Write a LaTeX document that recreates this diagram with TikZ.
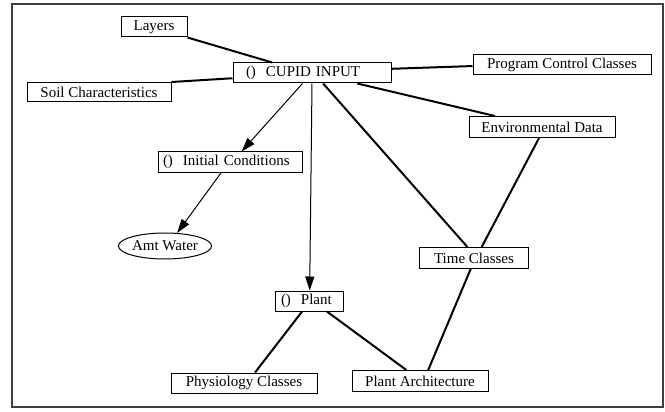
\documentclass[tikz,border=0pt]{standalone}
\usepackage{fontspec}
\setmainfont{Liberation Serif}
\usetikzlibrary{arrows.meta,shapes.geometric,calc}
\begin{document}
\begin{tikzpicture}[x=1pt,y=-1pt,
  every node/.style={font=\fontsize{15}{17}\selectfont},
  cls/.style={draw,line width=1pt,rectangle,minimum height=20pt,inner sep=0pt},
  thick link/.style={line width=2pt},
  arrow link/.style={line width=1pt,-{Triangle[length=14pt,width=9pt]}}]
% canvas and outer frame
\useasboundingbox (0,0) rectangle (665,412);
\fill[white] (0,0) rectangle (665,412);
\draw[line width=1.6pt,black!75] (12,4) rectangle (663,407);
% nodes
\node[cls,minimum width=66pt] (layers) at (154,27) {Layers};
\node[cls,text width=132pt,inner xsep=13pt,inner ysep=0pt,align=left,minimum height=20pt] (cupid) at (312,73) {()\ \ CUPID INPUT};
\node[cls,minimum width=144pt,minimum height=19pt] (soil) at (99,92) {Soil Characteristics};
\node[cls,minimum width=178pt] (prog) at (562,65) {Program Control Classes};
\node[cls,minimum width=146pt,minimum height=21pt] (env) at (542,127) {Environmental Data};
\node[cls,text width=134pt,inner xsep=5pt,inner ysep=0pt,align=left] (init) at (230,162) {()\ \ Initial Conditions};
\node[draw,line width=1pt,ellipse,minimum width=93pt,minimum height=26pt,inner sep=0pt] (water) at (165,246) {Amt Water};
\node[cls,minimum width=109pt,minimum height=21pt] (time) at (474,258) {Time Classes};
\node[cls,text width=56pt,inner xsep=6pt,inner ysep=0pt,align=left] (plant) at (309,301) {()\ \ Plant};
\node[cls,minimum width=146pt] (phys) at (244,383) {Physiology Classes};
\node[cls,minimum width=136pt,minimum height=21pt] (arch) at (420,381) {Plant Architecture};
% undirected links (end points given as fractions along box sides)
\draw[thick link] (layers.south east) -- ($(cupid.north west)!0.25!(cupid.north east)$);
\draw[thick link] (soil.north east) -- ($(cupid.north west)!0.75!(cupid.south west)$);
\draw[thick link] ($(cupid.north east)!0.3!(cupid.south east)$) -- ($(prog.north west)!0.55!(prog.south west)$);
\draw[thick link] ($(cupid.south west)!0.785!(cupid.south east)$) -- ($(env.north west)!0.18!(env.north east)$);
\draw[thick link] ($(cupid.south west)!0.57!(cupid.south east)$) -- ($(time.north west)!0.44!(time.north east)$);
\draw[thick link] ($(env.south west)!0.48!(env.south east)$) -- ($(time.north west)!0.57!(time.north east)$);
\draw[thick link] ($(plant.south west)!0.40!(plant.south east)$) -- ($(phys.north west)!0.575!(phys.north east)$);
\draw[thick link] ($(plant.south west)!0.76!(plant.south east)$) -- ($(arch.north west)!0.40!(arch.north east)$);
\draw[thick link] ($(time.south west)!0.47!(time.south east)$) -- ($(arch.north west)!0.56!(arch.north east)$);
% directed links
\draw[arrow link] ($(cupid.south west)!0.44!(cupid.south east)$) -- ($(init.north west)!0.58!(init.north east)$);
\draw[arrow link] ($(cupid.south west)!0.5!(cupid.south east)$) -- ($(plant.north west)!0.51!(plant.north east)$);
\draw[arrow link] ($(init.south west)!0.44!(init.south east)$) -- (water.47);
\end{tikzpicture}
\end{document}
